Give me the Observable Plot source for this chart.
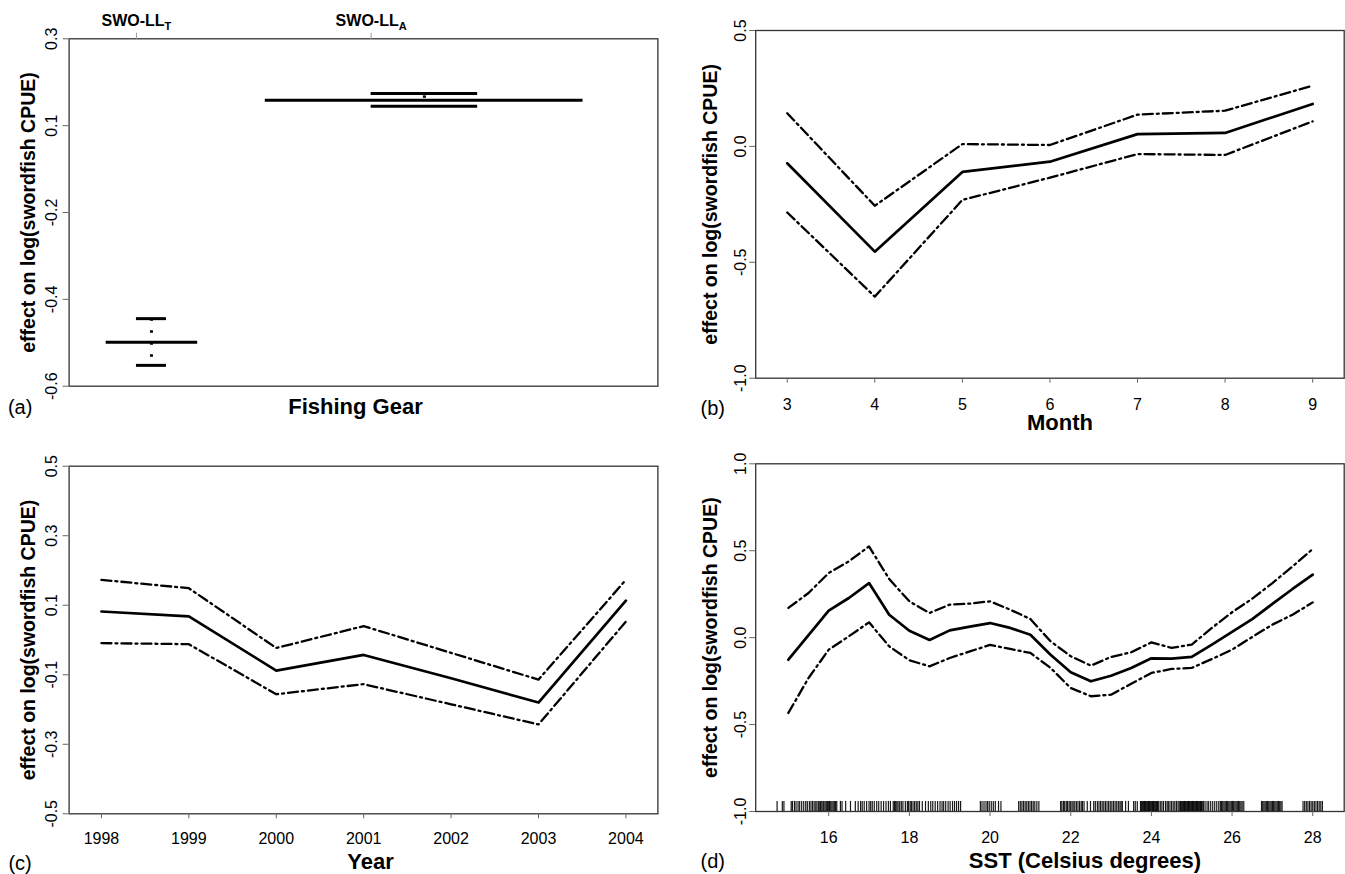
<!DOCTYPE html>
<html>
<head>
<meta charset="utf-8">
<script src="https://cdn.jsdelivr.net/npm/d3@7"></script>
<script src="https://cdn.jsdelivr.net/npm/@observablehq/plot@0.6"></script>
<style>
  body { margin: 0; background: #fff; }
  #fig { position: relative; width: 1345px; height: 874px; overflow: hidden; background: #fff; }
  #fig > svg { position: absolute; }
</style>
</head>
<body>
<div id="fig"></div>
<script>
// ---------- (a) Fishing gear effect ----------
const gearLevels = ["SWO-LL|T", "SWO-LL|A"];        // label | subscript
const gearTickPos = [1, 2];
const gearEffect = [-0.486, 0.141];
const gearUpper = [-0.425, 0.158];
const gearLower = [-0.546, 0.125];
const gearBarStart = [0.871, 1.549];
const gearBarEnd = [1.261, 2.903];
const gearBandStart = [1.0, 2.0];
const gearBandEnd = [1.128, 2.454];
const gearYTicks = [-0.6, -0.375, -0.15, 0.075, 0.3];
const gearYLabels = ["-0.6", "-0.4", "-0.2", "0.1", "0.3"];

// ---------- (b) Month effect ----------
const months = [3, 4, 5, 6, 7, 8, 9];
const monthEffect = [-0.073, -0.454, -0.110, -0.066, 0.053, 0.058, 0.183];
const monthUpper  = [0.143, -0.256, 0.010, 0.006, 0.137, 0.154, 0.262];
const monthLower  = [-0.285, -0.648, -0.231, -0.135, -0.033, -0.037, 0.108];
const monthYTicks = [-1.0, -0.5, 0.0, 0.5];
const monthYLabels = ["-1.0", "-0.5", "0.0", "0.5"];

// ---------- (c) Year effect ----------
const years = [1998, 1999, 2000, 2001, 2002, 2003, 2004];
const yearEffect = [0.082, 0.068, -0.088, -0.043, -0.110, -0.180, 0.113];
const yearUpper  = [0.173, 0.149, -0.023, 0.040, -0.037, -0.114, 0.173];
const yearLower  = [-0.009, -0.012, -0.156, -0.127, -0.185, -0.243, 0.053];
const yearYTicks = [-0.5, -0.3, -0.1, 0.1, 0.3, 0.5];
const yearYLabels = ["-0.5", "-0.3", "-0.1", "0.1", "0.3", "0.5"];

// ---------- (d) SST effect ----------
const sst = [15.0, 15.5, 16.0, 16.5, 17.0, 17.5, 18.0, 18.5, 19.0, 19.5, 20.0, 20.5, 21.0,
             21.5, 22.0, 22.5, 23.0, 23.5, 24.0, 24.5, 25.0, 25.5, 26.0, 26.5, 27.0, 27.5, 28.0];
const sstEffect = [-0.127, 0.015, 0.155, 0.228, 0.314, 0.132, 0.040, -0.013, 0.042, 0.063, 0.084, 0.056, 0.017,
                   -0.098, -0.199, -0.251, -0.219, -0.175, -0.119, -0.121, -0.111, -0.040, 0.033, 0.107, 0.194, 0.280, 0.362];
const sstUpper  = [0.171, 0.257, 0.372, 0.439, 0.525, 0.337, 0.209, 0.142, 0.190, 0.196, 0.209, 0.161, 0.107,
                   -0.021, -0.107, -0.161, -0.111, -0.084, -0.027, -0.059, -0.040, 0.056, 0.146, 0.224, 0.314, 0.410, 0.510];
const sstLower  = [-0.433, -0.232, -0.069, 0.008, 0.088, -0.050, -0.130, -0.165, -0.117, -0.079, -0.042, -0.065, -0.088,
                   -0.174, -0.290, -0.337, -0.328, -0.265, -0.203, -0.180, -0.174, -0.123, -0.069, 0.004, 0.075, 0.132, 0.203];
const sstXTicks = [16, 18, 20, 22, 24, 26, 28];
const sstYTicks = [-1.0, -0.5, 0.0, 0.5, 1.0];
const sstYLabels = ["-1.0", "-0.5", "0.0", "0.5", "1.0"];
// observed SST values (rug)
const sstRug = [
  14.72, 14.85, 14.89,
  15.07, 15.10, 15.15, 15.19, 15.24, 15.28, 15.33, 15.38, 15.43, 15.47, 15.52, 15.56, 15.60, 15.64, 15.68, 15.71,
  15.75, 15.78, 15.80, 15.83, 15.86, 15.88, 15.91, 15.94, 15.97, 16.00, 16.02, 16.05, 16.08, 16.11, 16.14, 16.17, 16.20,
  16.29, 16.33, 16.42, 16.54,
  16.66, 16.73, 16.79, 16.83, 16.88, 16.94, 17.00, 17.04, 17.08, 17.13, 17.19, 17.24, 17.30, 17.36, 17.42, 17.48, 17.53,
  17.60, 17.63, 17.66, 17.69, 17.72, 17.76, 17.80, 17.84, 17.90, 17.95, 17.98, 18.02, 18.05, 18.09, 18.13, 18.17, 18.21, 18.25,
  18.32, 18.40, 18.47, 18.53, 18.58, 18.64, 18.70, 18.76, 18.81, 18.85, 18.90, 18.96, 19.01, 19.07, 19.12, 19.17, 19.22, 19.27,
  19.76, 19.80, 19.85, 19.90, 19.94, 19.98, 20.03, 20.08, 20.13, 20.21, 20.27,
  20.71, 20.75, 20.79, 20.83, 20.87, 20.91, 20.95, 20.99, 21.03, 21.07, 21.11, 21.16, 21.21,
  21.75, 21.78, 21.82, 21.85, 21.89, 21.92, 21.96, 21.99, 22.03, 22.06, 22.10, 22.14, 22.18, 22.22, 22.26, 22.29, 22.33, 22.41, 22.49,
  22.57, 22.61, 22.66, 22.70, 22.74, 22.78, 22.82, 22.86, 22.90, 22.94, 22.98, 23.02, 23.06, 23.10, 23.14, 23.18, 23.22, 23.25, 23.28,
  23.36, 23.43, 23.56, 23.60, 23.65,
  23.73, 23.75, 23.77, 23.79, 23.81, 23.83, 23.85, 23.87, 23.89, 23.91, 23.93, 23.95, 23.97, 23.99, 24.01, 24.03, 24.05, 24.07, 24.09, 24.11, 24.13, 24.15,
  24.18, 24.22, 24.26, 24.30, 24.35, 24.39, 24.42, 24.46, 24.50, 24.54, 24.58, 24.62, 24.66, 24.69,
  24.72, 24.74, 24.76, 24.78, 24.80, 24.82, 24.84, 24.86, 24.88, 24.90, 24.92, 24.94, 24.96, 24.98, 25.00, 25.02, 25.04, 25.06,
  25.08, 25.10, 25.12, 25.14, 25.16, 25.18, 25.20, 25.22, 25.24, 25.26,
  25.29, 25.33, 25.38, 25.42, 25.47, 25.52, 25.57, 25.62, 25.67,
  25.71, 25.74, 25.77, 25.80, 25.83, 25.86, 25.89, 25.92, 25.95, 25.98, 26.01, 26.04, 26.07, 26.10, 26.13, 26.16, 26.19, 26.22, 26.25, 26.29,
  26.73, 26.76, 26.79, 26.82, 26.85, 26.88, 26.91, 26.94, 26.97, 27.00, 27.03, 27.06, 27.09, 27.12, 27.15, 27.18, 27.21, 27.24,
  27.76, 27.80, 27.84, 27.88, 27.92, 27.96, 28.00, 28.04, 28.08, 28.12, 28.16, 28.20, 28.24
];

const yTitle = "effect on log(swordfish CPUE)";
const FONT = "'Liberation Sans', Arial, Helvetica, sans-serif";

const baseStyle = { fontFamily: FONT, background: "transparent", overflow: "visible", color: "black" };
const frameMark = () => Plot.frame({ stroke: "#333", strokeWidth: 1.3 });
const solid = { stroke: "black", strokeWidth: 2.7, strokeLinejoin: "round" };
const dotdash = { stroke: "black", strokeWidth: 2.3, strokeDasharray: "10,4,2,4" };

function yAxis(ticks, labels, pad) {
  const lab = new Map(ticks.map((t, i) => [t, labels[i]]));
  return Plot.axisY({
    ticks, tickFormat: d => lab.get(d), tickSize: 6, tickPadding: pad, tickRotate: -90,
    fontSize: 16, stroke: "#666", fill: "black", label: null
  });
}
function xAxis(ticks, pad) {
  return Plot.axisX({
    ticks, tickFormat: d => String(d), tickSize: 5, tickPadding: pad,
    fontSize: 16, stroke: "#666", fill: "black", label: null
  });
}
// centred text block positioned relative to a frame anchor
function titleText(str, opts) {
  return Plot.text([str], { text: d => d, fill: "black", textAnchor: "middle", lineAnchor: "middle", ...opts });
}
function place(svg, left, top) {
  svg.style.left = left + "px";
  svg.style.top = top + "px";
  document.getElementById("fig").appendChild(svg);
}

// ---------- panel (a) ----------
const gear = gearLevels.map((g, i) => ({
  level: g, tick: gearTickPos[i], effect: gearEffect[i], upper: gearUpper[i], lower: gearLower[i],
  barStart: gearBarStart[i], barEnd: gearBarEnd[i], bandStart: gearBandStart[i], bandEnd: gearBandEnd[i]
}));
const gearLab = new Map(gearTickPos.map((t, i) => [t, gearLevels[i]]));
const plotA = Plot.plot({
  width: 660, height: 420,
  marginLeft: 68.6, marginRight: 2.6, marginTop: 38.3, marginBottom: 34.3,
  x: { domain: [0.713, 3.222] },
  y: { domain: [-0.6, 0.3] },
  style: baseStyle,
  marks: [
    frameMark(),
    yAxis(gearYTicks, gearYLabels, 6),
    Plot.axisX({ anchor: "top", ticks: gearTickPos, tickFormat: d => gearLab.get(d), tickSize: 6.5, tickPadding: 6,
                 fontSize: 16, fontWeight: "bold", stroke: "#999", fill: "black", label: null }),
    Plot.ruleY(gear, { y: "effect", x1: "barStart", x2: "barEnd", stroke: "black", strokeWidth: 3 }),
    Plot.ruleY(gear, { y: "upper", x1: "bandStart", x2: "bandEnd", stroke: "black", strokeWidth: 3 }),
    Plot.ruleY(gear, { y: "lower", x1: "bandStart", x2: "bandEnd", stroke: "black", strokeWidth: 3 }),
    Plot.ruleX(gear, { x: d => (d.bandStart + d.bandEnd) / 2, y1: "lower", y2: "upper", stroke: "black",
                       strokeWidth: 3, strokeDasharray: "2.5,9.5", strokeDashoffset: -8 }),
    titleText(yTitle, { frameAnchor: "left", rotate: -90, dx: -40, fontSize: 19.5, fontWeight: "bold" }),
    titleText("Fishing Gear", { frameAnchor: "bottom", dx: -8, dy: 21, fontSize: 22, fontWeight: "bold" }),
    titleText("(a)", { frameAnchor: "bottom-left", dx: -49, dy: 21, fontSize: 20 })
  ]
});
// subscripted gear labels
plotA.querySelectorAll('g[aria-label="x-axis tick label"] text').forEach(t => {
  const [base, sub] = t.textContent.split("|");
  t.textContent = "";
  const ns = "http://www.w3.org/2000/svg";
  const a = document.createElementNS(ns, "tspan"); a.textContent = base; t.appendChild(a);
  const b = document.createElementNS(ns, "tspan"); b.textContent = sub;
  b.setAttribute("font-size", "11"); b.setAttribute("dy", "4"); t.appendChild(b);
});
place(plotA, 0, 0);

// ---------- panel (b) ----------
const plotB = Plot.plot({
  width: 685, height: 420,
  marginLeft: 95.2, marginRight: 1.3, marginTop: 30, marginBottom: 42.3,
  x: { domain: [2.64, 9.36] },
  y: { domain: [-1, 0.5] },
  style: baseStyle,
  marks: [
    frameMark(),
    yAxis(monthYTicks, monthYLabels, 4),
    xAxis(months, 15),
    Plot.line(months, { x: months, y: monthUpper, ...dotdash }),
    Plot.line(months, { x: months, y: monthLower, ...dotdash }),
    Plot.line(months, { x: months, y: monthEffect, ...solid }),
    titleText(yTitle, { frameAnchor: "left", rotate: -90, dx: -45, fontSize: 19.5, fontWeight: "bold" }),
    titleText("Month", { frameAnchor: "bottom", dx: 10, dy: 45, fontSize: 22, fontWeight: "bold" }),
    titleText("(b)", { frameAnchor: "bottom-left", dx: -43, dy: 30.5, fontSize: 20 })
  ]
});
place(plotB, 660, 0);

// ---------- panel (c) ----------
const plotC = Plot.plot({
  width: 660, height: 454,
  marginLeft: 68.6, marginRight: 2.6, marginTop: 45.7, marginBottom: 60.7,
  x: { domain: [1997.63, 2004.366] },
  y: { domain: [-0.5, 0.5] },
  style: baseStyle,
  marks: [
    frameMark(),
    yAxis(yearYTicks, yearYLabels, 6),
    xAxis(years, 14),
    Plot.line(years, { x: years, y: yearUpper, ...dotdash }),
    Plot.line(years, { x: years, y: yearLower, ...dotdash }),
    Plot.line(years, { x: years, y: yearEffect, ...solid }),
    titleText(yTitle, { frameAnchor: "left", rotate: -90, dx: -40, fontSize: 19.5, fontWeight: "bold" }),
    titleText("Year", { frameAnchor: "bottom", dx: 7, dy: 48.5, fontSize: 22, fontWeight: "bold" }),
    titleText("(c)", { frameAnchor: "bottom-left", dx: -49, dy: 50, fontSize: 20 })
  ]
});
place(plotC, 0, 420);

// ---------- panel (d) ----------
const plotD = Plot.plot({
  width: 685, height: 454,
  marginLeft: 95.2, marginRight: 1.3, marginTop: 43.3, marginBottom: 63,
  x: { domain: [14.19, 28.78] },
  y: { domain: [-1, 1] },
  style: baseStyle,
  marks: [
    frameMark(),
    yAxis(sstYTicks, sstYLabels, 4),
    xAxis(sstXTicks, 15),
    Plot.ruleX(sstRug, { x: d => d, y1: -1, y2: -0.942, stroke: "black", strokeWidth: 1.2, strokeOpacity: 0.9 }),
    Plot.line(sst, { x: sst, y: sstUpper, ...dotdash }),
    Plot.line(sst, { x: sst, y: sstLower, ...dotdash }),
    Plot.line(sst, { x: sst, y: sstEffect, ...solid }),
    titleText(yTitle, { frameAnchor: "left", rotate: -90, dx: -45, fontSize: 19.5, fontWeight: "bold" }),
    titleText("SST (Celsius degrees)", { frameAnchor: "bottom", dx: 35, dy: 49, fontSize: 22, fontWeight: "bold" }),
    titleText("(d)", { frameAnchor: "bottom-left", dx: -43, dy: 50.5, fontSize: 20 })
  ]
});
place(plotD, 660, 420);
</script>
</body>
</html>
